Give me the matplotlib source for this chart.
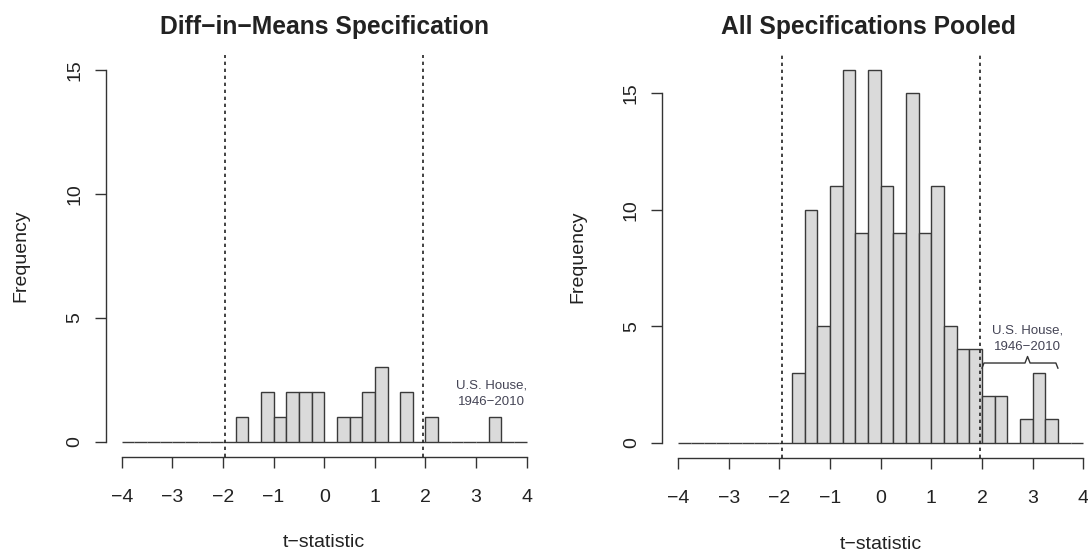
import matplotlib
matplotlib.use("Agg")
import matplotlib.pyplot as plt
import numpy as np

plt.rcParams['font.family'] = ['Liberation Sans', 'DejaVu Sans']

# histogram bins: width 0.25 from -4 to 4
bin_lo, bin_hi, bin_w = -4.0, 4.0, 0.25
edges = np.arange(bin_lo, bin_hi, bin_w)

# counts per bin
diff_counts = [0, 0, 0, 0, 0, 0, 0, 0, 0,
               1, 0, 2, 1, 2, 2, 2, 0, 1, 1, 2, 3, 0, 2, 0,
               1, 0, 0, 0, 0, 1, 0, 0]
pooled_counts = [0, 0, 0, 0, 0, 0, 0, 0, 0,
                 3, 10, 5, 11, 16, 9, 16, 11, 9, 15, 9, 11, 5, 4, 4,
                 2, 2, 0, 1, 3, 1, 0, 0]

titles = ['Diff\u2212in\u2212Means Specification', 'All Specifications Pooled']
crit = [-1.96, 1.96]
xticks = [-4, -3, -2, -1, 0, 1, 2, 3, 4]
yticks = [0, 5, 10, 15]
note = 'U.S. House,\n1946\u22122010'

fig = plt.figure(figsize=(10.88, 5.51), dpi=100)
ax1 = fig.add_axes([0.0970, 0.1713, 0.4020, 0.7287])
ax2 = fig.add_axes([0.6085, 0.1695, 0.4020, 0.7307])

axcol = '#333333'
for ax, counts, title, ymax, tx in [(ax1, diff_counts, titles[0], 15, 0.5),
                                     (ax2, pooled_counts, titles[1], 16, 0.473)]:
    ax.bar(edges, counts, width=bin_w, align='edge', color='#dadada',
           edgecolor='#3a3a3a', linewidth=1.0, zorder=2)
    for c in crit:
        ax.axvline(c, color='#222222', lw=1.2, linestyle=(0, (2.0, 2.2)), zorder=3)
    pad_x = 0.04 * (bin_hi - bin_lo)
    ax.set_xlim(bin_lo - pad_x, bin_hi + pad_x)
    ax.set_ylim(-0.04 * ymax, ymax * 1.04)
    for s in ['top', 'right']:
        ax.spines[s].set_visible(False)
    ax.spines['left'].set_bounds(0, 15)
    ax.spines['bottom'].set_bounds(-4, 4)
    for s in ['left', 'bottom']:
        ax.spines[s].set_color(axcol)
        ax.spines[s].set_linewidth(1.0)
    ax.set_xticks(xticks)
    ax.set_yticks(yticks)
    ax.tick_params(axis='both', direction='out', length=8, width=1.0,
                   color=axcol, labelsize=14, labelcolor='#222222')
    ax.tick_params(axis='x', pad=15)
    ax.tick_params(axis='y', pad=8)
    plt.setp(ax.get_yticklabels(), rotation=90, va='center')
    ax.set_ylabel('Frequency', fontsize=14, color='#222222', va='center')
    ax.yaxis.set_label_coords(-0.193, 0.5)
    ax.set_xlabel('t\u2212statistic', fontsize=14, color='#222222', va='center')
    ax.xaxis.set_label_coords(0.5, -0.215)
    ax.text(tx, 1.07, title, transform=ax.transAxes, ha='center', va='center',
            fontsize=17.7, fontweight='bold', color='#222222')

# annotations
ax1.text(3.3, 1.93, note, ha='center', va='center', fontsize=9.5,
         color='#444455', linespacing=1.55)
ax2.text(2.9, 4.47, note, ha='center', va='center', fontsize=9.5,
         color='#444455', linespacing=1.55)

# brace over the U.S. House bars in the pooled panel
b_lo, b_hi, b_mid, b_y = 2.0, 3.5, 2.9, 3.42
bx = [b_lo, b_lo + 0.04, b_mid - 0.05, b_mid, b_mid + 0.05, b_hi - 0.04, b_hi]
by = [b_y - 0.22, b_y, b_y, b_y + 0.28, b_y, b_y, b_y - 0.22]
ax2.plot(bx, by, color='#333333', lw=1.0, zorder=4)

fig.savefig('out.png', dpi=100)
